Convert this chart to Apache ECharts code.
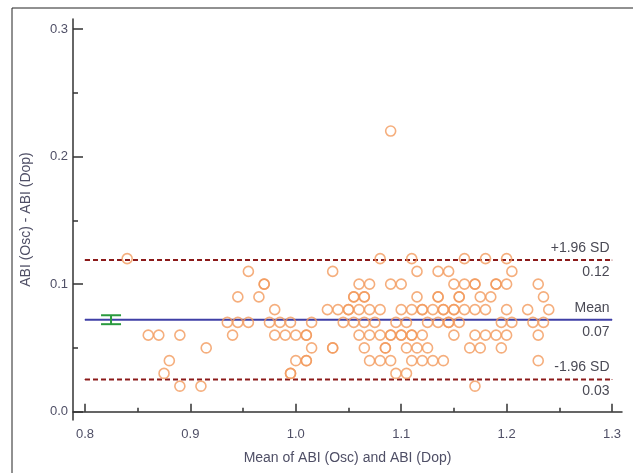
<!DOCTYPE html>
<html>
<head>
<meta charset="utf-8">
<script src="https://cdn.jsdelivr.net/npm/echarts@6/dist/echarts.min.js"></script>
<style>
  html, body { margin: 0; padding: 0; background: #fff; }
  #chart { width: 633px; height: 473px; }
</style>
</head>
<body>
<div id="chart"></div>
<script>
// Bland-Altman: mean of ABI (x) vs difference (y)
const points = [
  [1.09, 0.22],
  [0.84, 0.12], [1.08, 0.12], [1.11, 0.12], [1.16, 0.12], [1.18, 0.12], [1.20, 0.12],
  [0.955, 0.11], [1.035, 0.11], [1.115, 0.11], [1.135, 0.11], [1.145, 0.11], [1.205, 0.11],
  [0.97, 0.10], [0.97, 0.10], [1.06, 0.10], [1.07, 0.10], [1.09, 0.10], [1.10, 0.10], [1.15, 0.10],
  [1.16, 0.10], [1.17, 0.10], [1.17, 0.10], [1.19, 0.10], [1.19, 0.10], [1.20, 0.10], [1.23, 0.10],
  [0.945, 0.09], [0.965, 0.09], [1.055, 0.09], [1.055, 0.09], [1.065, 0.09], [1.065, 0.09], [1.115, 0.09],
  [1.135, 0.09], [1.135, 0.09], [1.155, 0.09], [1.155, 0.09], [1.175, 0.09], [1.185, 0.09], [1.235, 0.09],
  [0.98, 0.08], [1.03, 0.08], [1.04, 0.08], [1.05, 0.08], [1.05, 0.08], [1.06, 0.08], [1.07, 0.08],
  [1.08, 0.08], [1.10, 0.08], [1.11, 0.08], [1.12, 0.08], [1.12, 0.08], [1.13, 0.08], [1.14, 0.08],
  [1.14, 0.08], [1.15, 0.08], [1.15, 0.08], [1.16, 0.08], [1.17, 0.08], [1.18, 0.08], [1.20, 0.08],
  [1.22, 0.08], [1.24, 0.08],
  [0.935, 0.07], [0.945, 0.07], [0.955, 0.07], [0.975, 0.07], [0.985, 0.07], [0.995, 0.07], [1.015, 0.07],
  [1.045, 0.07], [1.055, 0.07], [1.065, 0.07], [1.075, 0.07], [1.095, 0.07], [1.105, 0.07], [1.125, 0.07],
  [1.135, 0.07], [1.145, 0.07], [1.145, 0.07], [1.155, 0.07], [1.195, 0.07], [1.205, 0.07], [1.225, 0.07],
  [1.235, 0.07],
  [0.86, 0.06], [0.87, 0.06], [0.89, 0.06], [0.94, 0.06], [0.98, 0.06], [0.99, 0.06], [1.00, 0.06],
  [1.01, 0.06], [1.01, 0.06], [1.06, 0.06], [1.07, 0.06], [1.08, 0.06], [1.09, 0.06], [1.09, 0.06],
  [1.10, 0.06], [1.10, 0.06], [1.11, 0.06], [1.11, 0.06], [1.12, 0.06], [1.15, 0.06], [1.17, 0.06],
  [1.18, 0.06], [1.19, 0.06], [1.20, 0.06], [1.23, 0.06],
  [0.915, 0.05], [1.015, 0.05], [1.035, 0.05], [1.035, 0.05], [1.065, 0.05], [1.085, 0.05], [1.085, 0.05],
  [1.105, 0.05], [1.115, 0.05], [1.125, 0.05], [1.165, 0.05], [1.175, 0.05], [1.195, 0.05],
  [0.88, 0.04], [1.00, 0.04], [1.01, 0.04], [1.01, 0.04], [1.07, 0.04], [1.08, 0.04], [1.09, 0.04],
  [1.11, 0.04], [1.12, 0.04], [1.13, 0.04], [1.14, 0.04], [1.23, 0.04],
  [0.875, 0.03], [0.995, 0.03], [0.995, 0.03], [1.095, 0.03], [1.105, 0.03],
  [0.89, 0.02], [0.91, 0.02], [1.17, 0.02]
];

const xTicks = [0.8, 0.9, 1.0, 1.1, 1.2, 1.3];
const xMinorTicks = [0.85, 0.95, 1.05, 1.15, 1.25];
const yTicks = [0.0, 0.1, 0.2, 0.3];
const yMinorTicks = [0.05, 0.15, 0.25];

const limitNames = ['+1.96 SD', 'Mean', '-1.96 SD'];
const limitValues = [0.119, 0.0721, 0.0252];
const lineSpan = [0.8, 1.3];
const meanCI = [0.8247, 0.0686, 0.0756]; // x, low, high

const textColor = '#4f4f66';
const font = 'Liberation Sans, Arial, sans-serif';

const chart = echarts.init(document.getElementById('chart'));

const limitSeries = limitValues.map((v, i) => {
  const col = i === 1 ? '#3f3fa6' : '#8b1a1a';
  return {
    type: 'line',
    data: [
      { value: [lineSpan[0], v], label: { show: false } },
      {
        value: [lineSpan[1], v],
        label: {
          show: true,
          position: 'left',
          distance: 2,
          formatter: '{a|' + limitNames[i] + '}\n{a|' + v.toFixed(2) + '}',
          rich: { a: { fontSize: 14, lineHeight: 24, color: '#4a4a55', fontFamily: font, align: 'right' } }
        }
      }
    ],
    symbol: 'circle',
    symbolSize: 1,
    showSymbol: true,
    itemStyle: { color: col },
    silent: true,
    z: 2,
    lineStyle: i === 1
      ? { color: col, width: 2, type: 'solid' }
      : { color: col, width: 2, type: [5, 3] }
  };
});

const minorAxis = (pos, ticks, len) => ({
  type: 'value',
  position: pos,
  axisLine: { show: false },
  axisLabel: { show: false },
  splitLine: { show: false },
  axisTick: { show: true, inside: true, length: len, customValues: ticks, lineStyle: { color: '#333', width: 1.5 } }
});

chart.setOption({
  backgroundColor: '#fff',
  animation: false,
  graphic: [{
    type: 'rect',
    shape: { x: 12, y: 8, width: 700, height: 600 },
    style: { fill: 'none', stroke: '#222', lineWidth: 1 },
    silent: true
  }],
  grid: { left: 73, right: 11, top: 19, bottom: 53 },
  xAxis: [{
    type: 'value',
    min: 0.78861,
    max: 1.30949,
    name: 'Mean of ABI (Osc) and ABI (Dop)',
    nameLocation: 'middle',
    nameGap: 31,
    nameTextStyle: { fontSize: 14, color: textColor, fontFamily: font },
    axisLine: { show: true, lineStyle: { color: '#333', width: 1.5 } },
    axisTick: { show: true, inside: true, length: 8, customValues: xTicks, lineStyle: { color: '#333', width: 1.5 } },
    axisLabel: { customValues: xTicks, margin: 8, fontSize: 13, color: textColor, fontFamily: font,
      formatter: v => v.toFixed(1) },
    splitLine: { show: false }
  }, Object.assign(minorAxis('bottom', xMinorTicks, 4), { min: 0.78861, max: 1.30949 })],
  yAxis: [{
    type: 'value',
    min: -0.00652,
    max: 0.30786,
    name: 'ABI (Osc) - ABI (Dop)',
    nameLocation: 'middle',
    nameGap: 40,
    nameRotate: 90,
    nameTextStyle: { fontSize: 14, color: textColor, fontFamily: font },
    axisLine: { show: true, lineStyle: { color: '#333', width: 1.5 } },
    axisTick: { show: true, inside: true, length: 10, customValues: yTicks, lineStyle: { color: '#333', width: 1.5 } },
    axisLabel: { customValues: yTicks, margin: 5, fontSize: 13, color: textColor, fontFamily: font,
      formatter: v => v.toFixed(1) },
    splitLine: { show: false }
  }, Object.assign(minorAxis('left', yMinorTicks, 5), { min: -0.00652, max: 0.30786 })],
  series: [
    ...limitSeries,
    {
      type: 'custom',
      data: [meanCI],
      silent: true,
      z: 3,
      renderItem: (params, api) => {
        const lo = api.coord([api.value(0), api.value(1)]);
        const hi = api.coord([api.value(0), api.value(2)]);
        const w = 10;
        const st = { stroke: '#2a9a3e', lineWidth: 2 };
        return {
          type: 'group',
          children: [
            { type: 'line', shape: { x1: lo[0], y1: lo[1], x2: hi[0], y2: hi[1] }, style: st },
            { type: 'line', shape: { x1: lo[0] - w, y1: lo[1], x2: lo[0] + w, y2: lo[1] }, style: st },
            { type: 'line', shape: { x1: hi[0] - w, y1: hi[1], x2: hi[0] + w, y2: hi[1] }, style: st }
          ]
        };
      }
    },
    {
      type: 'scatter',
      data: points,
      symbol: 'circle',
      symbolSize: 10,
      z: 4,
      itemStyle: { color: 'transparent', borderColor: '#f29a5c', borderWidth: 1.6 }
    }
  ]
});
</script>
</body>
</html>
